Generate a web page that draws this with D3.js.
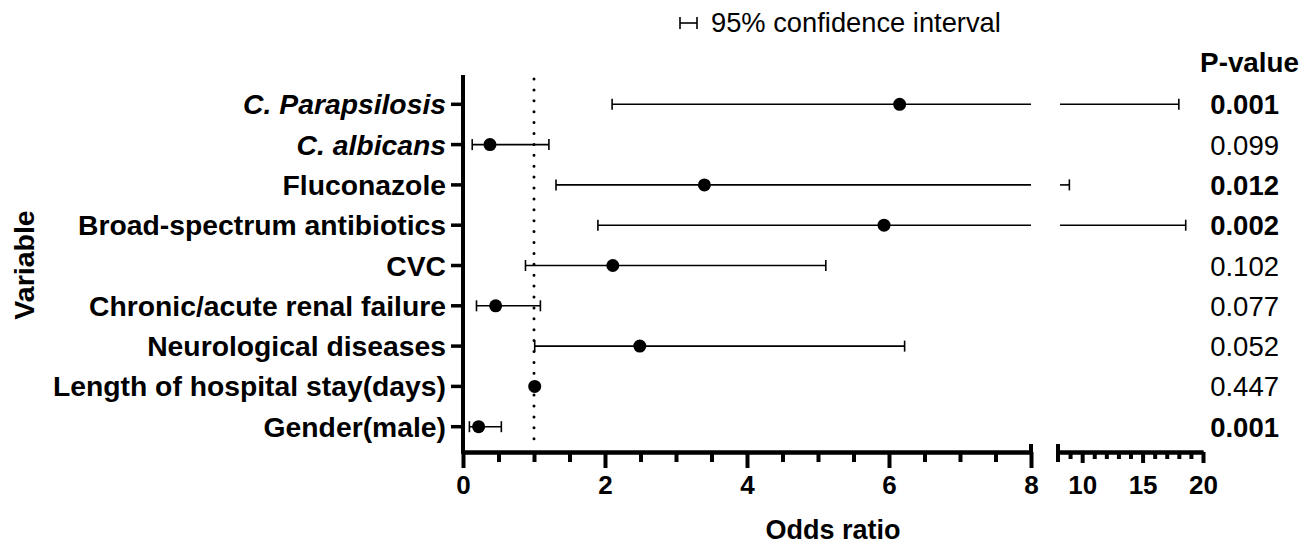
<!DOCTYPE html>
<html>
<head>
<meta charset="utf-8">
<script src="https://cdn.jsdelivr.net/npm/d3@7"></script>
<style>
  body { margin: 0; background: #fff; }
  svg { display: block; font-family: "Liberation Sans", Arial, sans-serif; }
</style>
</head>
<body>
<svg id="chart"></svg>
<script>
const variables = ["C. Parapsilosis", "C. albicans", "Fluconazole", "Broad-spectrum antibiotics", "CVC",
    "Chronic/acute renal failure", "Neurological diseases", "Length of hospital stay(days)", "Gender(male)"]
const italicVars = ["C. Parapsilosis", "C. albicans"]
const oddsRatio = [6.15, 0.38, 3.40, 5.93, 2.11, 0.46, 2.49, 1.01, 0.22]
const ciLow = [2.10, 0.13, 1.31, 1.90, 0.88, 0.19, 1.01, 1.00, 0.09]
const ciHigh = [18.0, 1.21, 8.94, 18.57, 5.11, 1.09, 6.22, 1.02, 0.54]
const pValues = ["0.001", "0.099", "0.012", "0.002", "0.102", "0.077", "0.052", "0.447", "0.001"]
const significant = [true, false, true, true, false, false, false, false, true]
const leftTicks = [0, 2, 4, 6, 8]
const rightTicks = [10, 15, 20]

const width = 1311, height = 545
const svg = d3.select("#chart").attr("width", width).attr("height", height)

const axisY = 452
const xL = d3.scaleLinear().domain([0, 8]).range([463, 1031])
const xR = d3.scaleLinear().domain([8, 20]).range([1058, 1203])
const y = d3.scalePoint().domain(variables).range([104.3, 426.7])

const rows = variables.map((v, i) => ({
    name: v, or: oddsRatio[i], lo: ciLow[i], hi: ciHigh[i], p: pValues[i], sig: significant[i]
}))

// reference line at OR = 1
svg.append("line")
    .attr("x1", xL(1)).attr("x2", xL(1))
    .attr("y1", 79).attr("y2", axisY - 3)
    .attr("stroke", "#000").attr("stroke-width", 3)
    .attr("stroke-linecap", "round")
    .attr("stroke-dasharray", "0,10.9")

// x axes
function styleAxis(g, size) {
    g.select(".domain").attr("stroke-width", 4)
    g.selectAll(".tick line").attr("stroke-width", 4)
    g.selectAll(".tick text")
        .attr("font-size", size).attr("font-weight", "bold")
        .attr("font-family", "Liberation Sans, Arial, sans-serif")
        .attr("fill", "#000")
}

const minorL = d3.range(0.5, 8, 0.5).filter(d => d % 2 !== 0)
svg.append("g").attr("transform", `translate(0,${axisY})`)
    .call(d3.axisBottom(xL).tickValues(minorL).tickSize(10).tickSizeOuter(0).tickFormat(""))
    .call(g => styleAxis(g, 26))
svg.append("g").attr("transform", `translate(0,${axisY})`)
    .call(d3.axisBottom(xL).tickValues(leftTicks).tickSize(16).tickSizeOuter(0).tickPadding(8))
    .call(g => styleAxis(g, 26))

const minorR = d3.range(9, 20, 1).filter(d => d % 5 !== 0)
svg.append("g").attr("transform", `translate(0,${axisY})`)
    .call(d3.axisBottom(xR).tickValues(minorR).tickSize(7).tickSizeOuter(0).tickFormat(""))
    .call(g => styleAxis(g, 26))
svg.append("g").attr("transform", `translate(0,${axisY})`)
    .call(d3.axisBottom(xR).tickValues(rightTicks).tickSize(11).tickSizeOuter(0).tickPadding(13))
    .call(g => styleAxis(g, 26))

// break caps
svg.append("line").attr("x1", xL(8)).attr("x2", xL(8)).attr("y1", axisY - 8).attr("y2", axisY + 2)
    .attr("stroke", "#000").attr("stroke-width", 4)
svg.append("line").attr("x1", xR(8)).attr("x2", xR(8)).attr("y1", axisY - 8).attr("y2", axisY + 10)
    .attr("stroke", "#000").attr("stroke-width", 4)

// y axis
svg.append("line").attr("x1", xL(0)).attr("x2", xL(0)).attr("y1", 75).attr("y2", axisY + 2)
    .attr("stroke", "#000").attr("stroke-width", 4)
svg.selectAll(".ytick").data(variables).enter().append("line")
    .attr("x1", xL(0) - 12).attr("x2", xL(0))
    .attr("y1", d => y(d)).attr("y2", d => y(d))
    .attr("stroke", "#000").attr("stroke-width", 3.5)
svg.selectAll(".ylabel").data(variables).enter().append("text")
    .attr("x", xL(0) - 17).attr("y", d => y(d) + 10)
    .attr("text-anchor", "end")
    .attr("font-size", 28.3).attr("font-weight", "bold")
    .attr("font-style", d => italicVars.includes(d) ? "italic" : "normal")
    .text(d => d)

// error bars
const bars = svg.append("g").attr("stroke", "#000").attr("stroke-width", 1.6)
const cap = 5.5
rows.forEach(r => {
    const yy = y(r.name)
    const l0 = xL(Math.max(r.lo, 0)), l1 = xL(Math.min(r.hi, 8))
    bars.append("line").attr("x1", l0).attr("x2", l1).attr("y1", yy).attr("y2", yy)
    if (r.lo <= 8) bars.append("line").attr("x1", l0).attr("x2", l0).attr("y1", yy - cap).attr("y2", yy + cap)
    if (r.hi <= 8) bars.append("line").attr("x1", l1).attr("x2", l1).attr("y1", yy - cap).attr("y2", yy + cap)
    if (r.hi > 8) {
        const r0 = xR(Math.max(r.lo, 8)) + 2, r1 = xR(r.hi)
        bars.append("line").attr("x1", r0).attr("x2", r1).attr("y1", yy).attr("y2", yy)
        bars.append("line").attr("x1", r1).attr("x2", r1).attr("y1", yy - cap).attr("y2", yy + cap)
    }
})

svg.selectAll(".pt").data(rows).enter().append("circle")
    .attr("cx", d => d.or <= 8 ? xL(d.or) : xR(d.or))
    .attr("cy", d => y(d.name))
    .attr("r", 6.5)
    .attr("fill", "#000")

// p-values
svg.append("text").attr("x", 1299).attr("y", 72)
    .attr("text-anchor", "end").attr("font-size", 27.8).attr("font-weight", "bold")
    .text("P-value")
svg.selectAll(".pval").data(rows).enter().append("text")
    .attr("x", 1279).attr("y", d => y(d.name) + 10)
    .attr("text-anchor", "end").attr("font-size", 27.5)
    .attr("font-weight", d => d.sig ? "bold" : "normal")
    .text(d => d.p)

// legend
const lg = svg.append("g").attr("stroke", "#000").attr("stroke-width", 1.6)
lg.append("line").attr("x1", 680).attr("x2", 697).attr("y1", 23).attr("y2", 23)
lg.append("line").attr("x1", 680).attr("x2", 680).attr("y1", 17).attr("y2", 29)
lg.append("line").attr("x1", 697).attr("x2", 697).attr("y1", 17).attr("y2", 29)
svg.append("text").attr("x", 711).attr("y", 32).attr("font-size", 27.3)
    .text("95% confidence interval")

// axis titles
svg.append("text").attr("x", (xL(0) + xR(20)) / 2).attr("y", 539)
    .attr("text-anchor", "middle").attr("font-size", 27).attr("font-weight", "bold")
    .text("Odds ratio")
svg.append("text").attr("transform", "translate(34,265) rotate(-90)")
    .attr("text-anchor", "middle").attr("font-size", 28.5).attr("font-weight", "bold")
    .text("Variable")
</script>
</body>
</html>
